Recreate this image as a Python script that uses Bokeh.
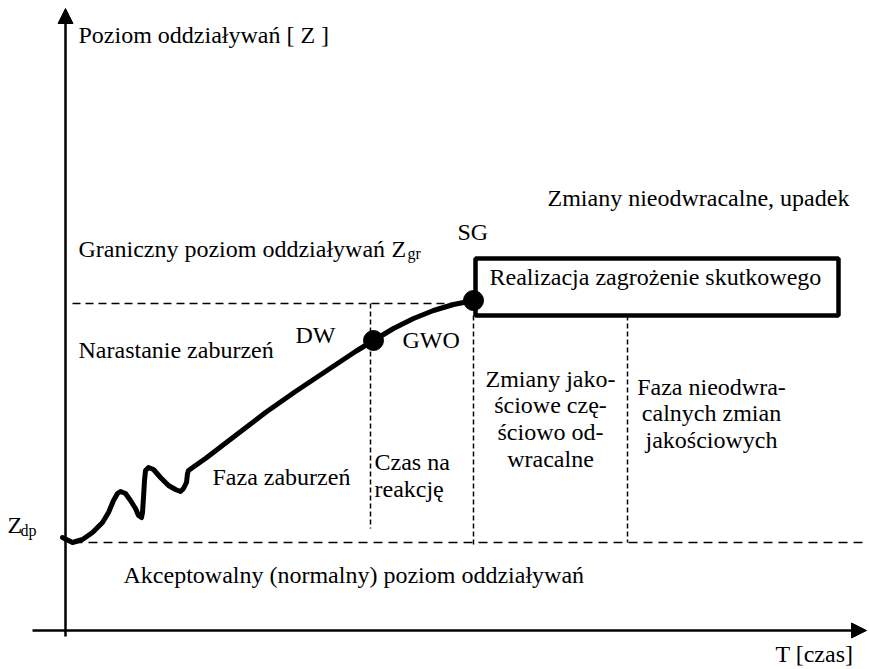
from bokeh.plotting import figure
from bokeh.models import Range1d, Arrow, NormalHead
from bokeh.core.properties import value
from bokeh.embed import file_html
from bokeh.resources import INLINE

# ---- data (T = time units, Z = level units; origin at axes crossing) ----
curve_t = [-3, 7, 17, 27, 37, 43, 48, 52, 55, 60, 65, 70, 73, 76, 77, 78, 79, 80, 83, 88, 95, 103,
           110, 115, 118, 121, 122, 123, 130, 140, 170, 200, 230, 260, 290, 308, 328, 348, 368, 388, 408]
curve_z = [93, 88, 91, 98, 108, 118, 130, 137, 139, 137, 130, 122, 115, 113, 118, 133, 150, 160, 163,
           161, 153, 145, 141, 139, 142, 148, 157, 160, 165, 172, 195, 218, 239, 259, 279, 290, 302,
           312, 320, 326, 330]

z_dp = 88          # acceptable level
z_gr = 327         # limit level
t_dw = 305         # reaction time start
t_sg = 408         # limit state
t_irr = 562        # irreversible phase start
key_t = [308, 408]
key_z = [290, 330]

box_t = [410, 773]
box_z = [315, 372]

labels_main = ["Poziom oddziaływań [ Z ]", "Zmiany nieodwracalne, upadek", "SG",
               "Graniczny poziom oddziaływań", "Z", "Narastanie zaburzeń", "DW", "GWO",
               "Faza zaburzeń", "Czas na", "reakcję", "Realizacja zagrożenie skutkowego",
               "Z", "Akceptowalny (normalny) poziom oddziaływań", "T [czas]"]
labels_sub = ["gr", "dp"]
block1 = ["Zmiany jako-", "ściowe czę-", "ściowo od-", "wracalne"]
block2 = ["Faza nieodwra-", "calnych zmian", "jakościowych"]

# ---- layout ----
p = figure(width=869, height=669, x_range=Range1d(-65, 804), y_range=Range1d(-39, 630),
           output_backend="svg", toolbar_location=None, min_border=0,
           x_axis_type=None, y_axis_type=None)
p.grid.visible = False
p.outline_line_color = None

# dashed levels
p.line([7, t_sg], [z_gr, z_gr], line_color="black", line_width=1.5, line_dash="8 5")
p.line([8, 797], [z_dp, z_dp], line_color="black", line_width=1.5, line_dash="9 6")
p.line([t_dw, t_dw], [z_gr, 102], line_color="black", line_width=1.5, line_dash="5 3")
p.line([t_sg, t_sg], [box_z[0], 83], line_color="black", line_width=1.5, line_dash="5 3")
p.line([t_irr, t_irr], [box_z[0], z_dp], line_color="black", line_width=1.5, line_dash="5 3")

# axes
p.add_layout(Arrow(end=NormalHead(size=15, fill_color="black", line_color="black"),
                   x_start=0, y_start=-6, x_end=0, y_end=622, line_width=2.5))
p.add_layout(Arrow(end=NormalHead(size=15, fill_color="black", line_color="black"),
                   x_start=-33, y_start=0, x_end=801, y_end=0, line_width=2.5))

# curve
p.line(curve_t, curve_z, line_color="black", line_width=5, line_join="round", line_cap="round")

# box
p.quad(left=[box_t[0]], right=[box_t[1]], bottom=[box_z[0]], top=[box_z[1]],
       fill_color=None, line_color="black", line_width=4.5)

# key points
p.scatter(key_t, key_z, size=20, color="black")


def put(x, y, s, size=24, align="left"):
    # small empirical lift so the rendered baseline sits where intended
    lift = 0.35 * size
    p.text([x], [y + lift], text=[s], text_font=value("Liberation Serif"),
           text_font_size=f"{size}px", text_baseline="alphabetic", text_align=align)


# main labels
lx = [13, 482, 392, 13, 326, 13, 230, 337, 147, 309, 309, 424, -58, 58, 710]
ly = [587, 424, 390, 373, 373, 272, 287, 282, 145, 160, 133, 345, 97, 47, -32]
for x, y, s in zip(lx, ly, labels_main):
    put(x, y, s)
for x, y, s in zip([342, -45], [371, 94], labels_sub):
    put(x, y, s, size=16)
for y, s in zip([243, 217, 190, 163], block1):
    put(485, y, s, align="center")
for y, s in zip([235, 209, 182], block2):
    put(646, y, s, align="center")

open("out.html", "w").write(file_html(p, INLINE))
